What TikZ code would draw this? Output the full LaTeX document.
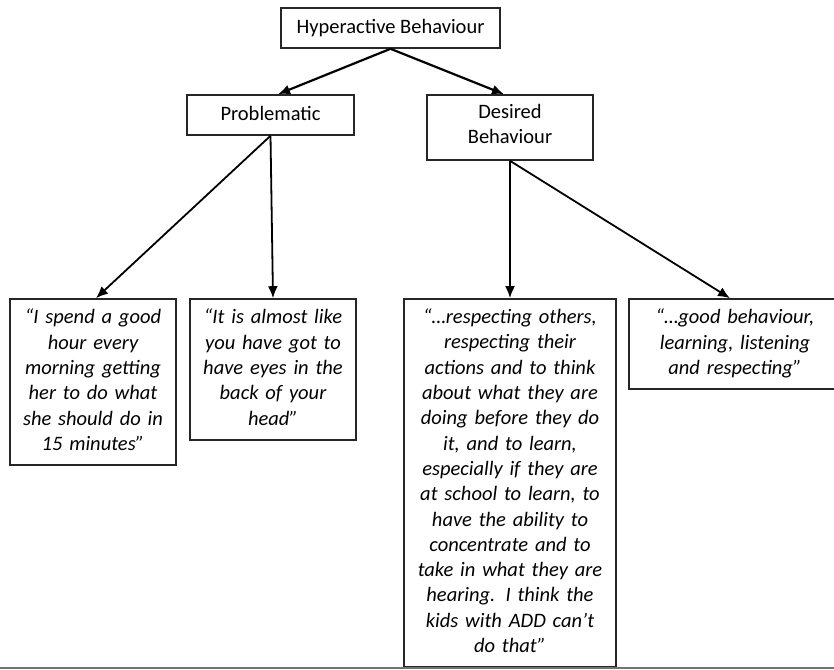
\documentclass[tikz,border=0pt]{standalone}
\usepackage{fontspec}
\setmainfont{Carlito}
\usetikzlibrary{arrows.meta}
\tikzset{
  box/.style={draw=black!85, line width=1.6pt, inner sep=0pt, align=center,
    font=\fontsize{20.5}{25.3}\selectfont,
    execute at begin node=\strut, execute at end node=\strut},
  quote/.style={box, font=\fontsize{20.5}{25.3}\selectfont\itshape},
  link/.style={draw=black, line width=2.2pt, -{Latex[length=12pt,width=10pt]}},
  linkthin/.style={draw=black, line width=1.8pt, -{Latex[length=12pt,width=10pt]}}
}
\begin{document}
\begin{tikzpicture}[x=1pt,y=-1pt]
\useasboundingbox (0,0) rectangle (834,669);
\clip (0,0) rectangle (834,669);
\node[box, minimum width=219pt, minimum height=40pt] (top) at (390.5,28) {Hyperactive Behaviour};
\node[box, minimum width=167pt, minimum height=40pt] (prob) at (270.5,115) {Problematic};
\node[box, minimum width=166pt, minimum height=65pt] (des) at (510,127.5) {Desired\\Behaviour};
\node[quote, minimum width=166pt, minimum height=166pt, text width=160pt] (q1) at (93,382)
  {“I spend a good\\hour every\\morning getting\\her to do what\\she should do in\\15 minutes”};
\node[quote, minimum width=166pt, minimum height=141pt, text width=160pt] (q2) at (273,369.5)
  {“It is almost like\\you have got to\\have eyes in the\\back of your\\head”};
\node[quote, minimum width=212pt, minimum height=368pt, text width=200pt] (q3) at (510,483)
  {“…respecting others,\\respecting their\\actions and to think\\about what they are\\doing before they do\\it, and to learn,\\especially if they are\\at school to learn, to\\have the ability to\\concentrate and to\\take in what they are\\hearing. I think the\\kids with ADD can’t\\do that”};
\node[quote, minimum width=212pt, minimum height=90pt, text width=200pt] (q4) at (735,344)
  {“…good behaviour,\\learning, listening\\and respecting”};
\draw[link] (top.south) -- ([xshift=7.5pt]prob.north);
\draw[link] (top.south) -- ([xshift=-6pt]des.north);
\draw[linkthin] (prob.south) -- ([xshift=3pt]q1.north);
\draw[linkthin] (prob.south) -- (q2.north);
\draw[link] (des.south) -- (q3.north);
\draw[linkthin] (des.south) -- ([xshift=-5pt]q4.north);
\coordinate (bl) at (0,668);
\coordinate (br) at (834,668);
\draw[draw=black!55, line width=1.5pt] (bl) -- (br);
\end{tikzpicture}
\end{document}
